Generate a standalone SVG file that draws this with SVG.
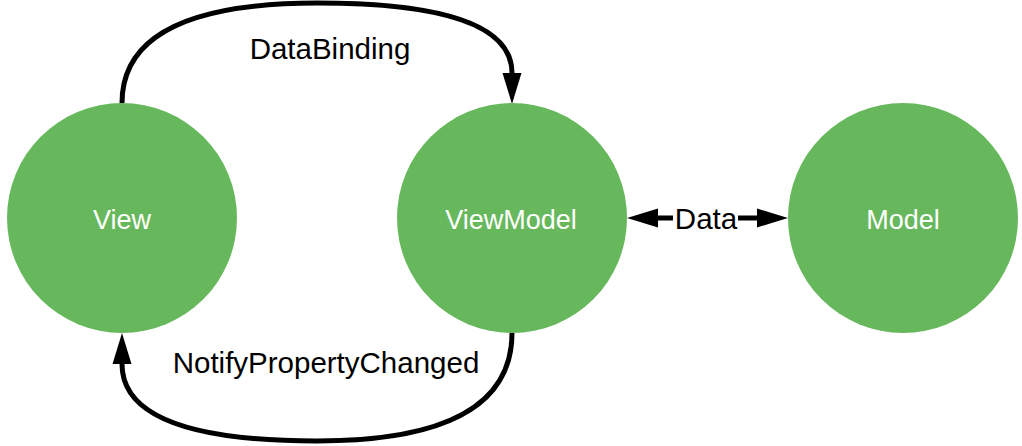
<svg xmlns="http://www.w3.org/2000/svg" width="1022" height="446" viewBox="0 0 1022 446">
  <style>
    .node { fill: #67B85D; }
    .nlabel { font-family: "Liberation Sans", Arial, Helvetica, sans-serif; font-size: 27px; fill: #ffffff; text-anchor: middle; }
    .elabel { font-family: "Liberation Sans", Arial, Helvetica, sans-serif; font-size: 29.5px; fill: #000000; text-anchor: middle; }
    .edge { fill: none; stroke: #000000; stroke-width: 5; }
  </style>
  <defs>
    <marker id="arr" markerUnits="userSpaceOnUse" markerWidth="31" markerHeight="20" viewBox="0 0 31 20" refX="0" refY="10" orient="auto-start-reverse">
      <path d="M0,0.5 L31,10 L0,19.5 Z" fill="#000000"/>
    </marker>
  </defs>
  <rect x="0" y="0" width="1022" height="446" fill="#ffffff"/>
  <g id="connectors">
    <g id="edge-databinding">
      <path class="edge" d="M122,103 Q122,3 317,3 Q512,3 512,73" marker-end="url(#arr)"/>
      <text class="elabel" x="330" y="59">DataBinding</text>
    </g>
    <g id="edge-notify">
      <path class="edge" d="M512,333 Q512,441 317,441 Q122,441 122,364" marker-end="url(#arr)"/>
      <text class="elabel" x="326" y="373">NotifyPropertyChanged</text>
    </g>
    <g id="edge-data">
      <path class="edge" d="M658,218 L757,218" marker-start="url(#arr)" marker-end="url(#arr)"/>
      <rect x="673" y="205" width="65" height="27" fill="#ffffff"/>
      <text class="elabel" x="706" y="228.5">Data</text>
    </g>
  </g>
  <g id="node-view">
    <circle class="node" cx="122" cy="218" r="115"/>
    <text class="nlabel" x="122" y="229">View</text>
  </g>
  <g id="node-viewmodel">
    <circle class="node" cx="512" cy="218" r="115"/>
    <text class="nlabel" x="511" y="229">ViewModel</text>
  </g>
  <g id="node-model">
    <circle class="node" cx="903" cy="218" r="115"/>
    <text class="nlabel" x="903" y="229">Model</text>
  </g>
</svg>
